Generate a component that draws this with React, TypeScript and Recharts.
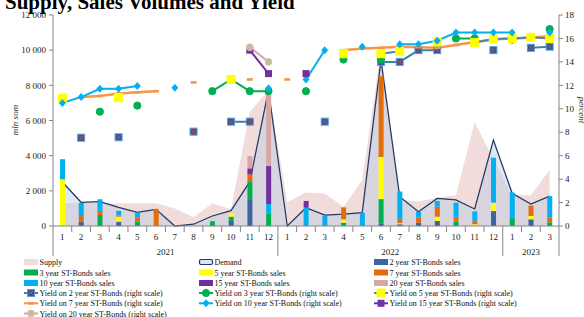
import React from 'react';
import { ComposedChart, Area, Bar, Line, XAxis, YAxis } from 'recharts';

const MONTHS = ['1','2','3','4','5','6','7','8','9','10','11','12','1','2','3','4','5','6','7','8','9','10','11','12','1','2','3'];
const YEARS = [
  { label: '2021', start: 0, count: 12 },
  { label: '2022', start: 12, count: 12 },
  { label: '2023', start: 24, count: 3 },
];

const SUPPLY = [1300,1300,1300,1300,1300,1300,1000,500,1300,950,6500,7700,1350,1900,1850,1100,2600,10000,1500,1400,1600,1750,5900,3800,1750,1750,3200];
const DEMAND = [2500,1350,1380,1060,780,950,0,100,570,870,2520,7730,0,1040,625,680,760,9440,1670,815,1570,1480,970,4890,1860,1250,1700];

const SALES_2Y = [0,245,0,245,0,0,0,0,0,285,1480,0,0,0,0,0,0,150,100,190,285,0,0,850,0,380,0];
const SALES_3Y = [0,0,625,0,245,0,0,0,270,245,1040,720,0,50,0,190,0,1380,0,0,0,245,0,0,440,0,210];
const SALES_5Y = [2650,0,0,285,0,0,0,0,0,190,0,0,0,0,0,190,0,2400,60,0,245,0,100,475,0,190,0];
const SALES_7Y = [0,320,230,60,230,970,0,0,0,0,420,0,0,0,0,680,0,4590,230,300,570,250,200,0,0,590,260];
const SALES_10Y = [1150,750,665,270,300,0,0,0,0,0,0,530,0,1000,585,0,760,0,1570,320,320,830,530,2560,1460,0,1230];
const SALES_15Y = [0,0,0,0,0,0,0,0,0,0,340,2160,0,375,0,0,0,0,0,0,0,0,0,0,0,0,0];
const SALES_20Y = [0,0,0,0,0,0,0,0,0,0,700,4040,0,0,0,0,0,0,0,0,0,0,0,0,0,0,0];

const n = null;
const YIELD_2Y = [n,7.53,n,7.57,n,n,n,8.05,n,8.9,8.9,n,n,n,8.9,n,n,14.0,14.0,15.0,15.0,n,n,15.0,n,15.2,15.3];
const YIELD_3Y = [n,n,9.75,n,10.27,n,n,n,11.5,12.5,11.5,11.5,n,11.5,n,14.2,n,14.2,n,n,n,16.0,16.0,n,15.9,n,16.8];
const YIELD_5Y = [10.9,n,n,10.95,n,n,n,n,n,12.5,n,n,n,n,n,14.7,n,14.7,14.9,n,15.7,n,15.65,15.95,16.0,16.1,16.0];
const YIELD_7Y = [n,11.0,11.1,11.3,11.4,11.5,n,12.25,n,n,12.5,n,12.5,n,n,15.0,15.15,15.2,15.3,15.25,15.2,15.45,15.7,15.9,16.0,16.05,16.2];
const YIELD_10Y = [10.5,11.0,11.7,11.7,11.95,n,11.8,n,n,n,n,11.75,n,12.5,15.0,n,15.3,n,15.5,15.5,15.8,16.5,16.5,16.5,16.5,n,16.5];
const YIELD_15Y = [n,n,n,n,n,n,n,n,n,n,15.0,13.0,n,13.0,n,n,n,n,n,n,n,n,n,n,n,n,n];
const YIELD_20Y = [n,n,n,n,n,n,n,n,n,n,15.25,14.0,n,n,n,n,n,n,n,n,n,n,n,n,n,n,n];

const LEFT_TICKS = [0,2000,4000,6000,8000,10000,12000];
const RIGHT_TICKS = [0,2,4,6,8,10,12,14,16,18];

const data = MONTHS.map((m, i) => ({
  key: String(i), month: m,
  supply: SUPPLY[i], demand: DEMAND[i],
  s2: SALES_2Y[i], s3: SALES_3Y[i], s5: SALES_5Y[i], s7: SALES_7Y[i], s10: SALES_10Y[i], s15: SALES_15Y[i], s20: SALES_20Y[i],
  y2: YIELD_2Y[i], y3: YIELD_3Y[i], y5: YIELD_5Y[i], y7: YIELD_7Y[i], y10: YIELD_10Y[i], y15: YIELD_15Y[i], y20: YIELD_20Y[i],
}));

const FONT = "'Liberation Serif', 'Times New Roman', serif";
const AXIS = '#868686';
const W = 584, H = 317;
const M = { top: 15, right: 0, bottom: 61, left: 8 };
const LEFT_W = 45, RIGHT_W = 25;
const PLOT_W = W - M.left - M.right - LEFT_W - RIGHT_W;
const HALF = PLOT_W / MONTHS.length / 2;

const C = {
  supply: '#F2DCDB', demandFill: '#B9CDE5', demandLine: '#1F3864',
  b2: '#3B64A0', b3: '#00B050', b5: '#FFFF00', b7: '#E46C0A', b10: '#00B0F0', b15: '#7030A0', b20: '#D9A6A6',
  l2: '#31859C', l3: '#00B050', l5: '#4F81BD', l7: '#F79646', l10: '#00B0F0', l15: '#7030A0', l20: '#D9A6A6',
};

const XTick = (props: any) => {
  const { x, y, payload } = props;
  const i = payload.index;
  const half = payload.offset || HALF;
  const yr = YEARS.find((e) => e.start === i);
  const left = x - half;
  return (
    <g>
      <text x={x} y={y + 14} textAnchor="middle" fontSize={9} fontFamily={FONT} fill="#222">{MONTHS[i]}</text>
      <line x1={left} x2={left} y1={y} y2={yr ? y + 30 : y + 6} stroke={AXIS} strokeWidth={1} />
      {i === MONTHS.length - 1 && <line x1={x + half} x2={x + half} y1={y} y2={y + 30} stroke={AXIS} strokeWidth={1} />}
      {yr && (
        <text x={left + yr.count * half} y={y + 29} textAnchor="middle" fontSize={9} fontFamily={FONT} fill="#222">{yr.label}</text>
      )}
    </g>
  );
};

const fmtThousands = (v: number) => String(v).replace(/\B(?=(\d{3})+(?!\d))/g, ' ');

type Kind = 'sq2' | 'circ3' | 'sq5' | 'dash7' | 'dia10' | 'sq15' | 'circ20';

const drawMarker = (kind: Kind, cx: number, cy: number, key?: any) => {
  switch (kind) {
    case 'sq2':
      return (
        <g key={key}>
          <rect x={cx - 3.5} y={cy - 3.5} width={7} height={7} fill="#2F5597" stroke="#5B9BD5" strokeWidth={1} />
          <path d={`M${cx - 2.2},${cy - 2.2}L${cx + 2.2},${cy + 2.2}M${cx - 2.2},${cy + 2.2}L${cx + 2.2},${cy - 2.2}`} stroke="#C0504D" strokeWidth={1} />
        </g>
      );
    case 'circ3':
      return <circle key={key} cx={cx} cy={cy} r={3.6} fill={C.b3} stroke={C.b3} />;
    case 'sq5':
      return <rect key={key} x={cx - 4} y={cy - 4} width={8} height={8} fill="#FFFF00" stroke="#FFFF00" />;
    case 'dash7':
      return <rect key={key} x={cx - 3} y={cy - 1.3} width={6} height={2.6} fill={C.l7} />;
    case 'dia10':
      return <path key={key} d={`M${cx},${cy - 4}L${cx + 3.5},${cy}L${cx},${cy + 4}L${cx - 3.5},${cy}Z`} fill={C.b10} />;
    case 'sq15':
      return <rect key={key} x={cx - 3.5} y={cy - 3.5} width={7} height={7} fill={C.b15} />;
    case 'circ20':
      return <circle key={key} cx={cx} cy={cy} r={3.4} fill="#C4BD97" stroke="#E6B9B8" strokeWidth={1} />;
  }
  return null;
};

const dotFn = (kind: Kind) => (props: any) => {
  const { cx, cy, index, value } = props;
  const k = `${kind}-${index}`;
  if (cx == null || cy == null || value == null || Number.isNaN(cy)) return <g key={k} />;
  return drawMarker(kind, cx, cy, k);
};

const LEGEND: { label: string; type: string; color?: string; marker?: Kind; col: number; row: number }[] = [
  { label: 'Supply', type: 'supply', col: 0, row: 0 },
  { label: 'Demand', type: 'demand', col: 1, row: 0 },
  { label: '2 year ST-Bonds sales', type: 'bar', color: C.b2, col: 2, row: 0 },
  { label: '3 year ST-Bonds sales', type: 'bar', color: C.b3, col: 0, row: 1 },
  { label: '5 year ST-Bonds sales', type: 'bar', color: C.b5, col: 1, row: 1 },
  { label: '7 year ST-Bonds sales', type: 'bar', color: C.b7, col: 2, row: 1 },
  { label: '10 year ST-Bonds sales', type: 'bar', color: C.b10, col: 0, row: 2 },
  { label: '15 year ST-Bonds sales', type: 'bar', color: C.b15, col: 1, row: 2 },
  { label: '20 year ST-Bonds sales', type: 'bar', color: C.b20, col: 2, row: 2 },
  { label: 'Yield on 2 year ST-Bonds (right scale)', type: 'line', color: C.l2, marker: 'sq2', col: 0, row: 3 },
  { label: 'Yield on 3 year ST-Bonds (right scale)', type: 'line', color: C.l3, marker: 'circ3', col: 1, row: 3 },
  { label: 'Yield on 5 year ST-Bonds (right scale)', type: 'line', color: C.l5, marker: 'sq5', col: 2, row: 3 },
  { label: 'Yield on 7 year ST-Bonds (right scale)', type: 'line', color: C.l7, marker: 'dash7', col: 0, row: 4 },
  { label: 'Yield on 10 year ST-Bonds (right scale)', type: 'line', color: C.l10, marker: 'dia10', col: 1, row: 4 },
  { label: 'Yield on 15 year ST-Bonds (right scale)', type: 'line', color: C.l15, marker: 'sq15', col: 2, row: 4 },
  { label: 'Yield on 20 year ST-Bonds (right scale)', type: 'line', color: C.l20, marker: 'circ20', col: 0, row: 5 },
];
const COL_X = [24, 199, 374];
const ROW_Y = [262, 272.5, 283, 293, 303.3, 313.5];

const Overlay = () => (
  <svg width={W} height={H} style={{ position: 'absolute', left: 0, top: 0, pointerEvents: 'none' }}>
    <text x={5} y={8.5} fontSize={21} fontWeight="bold" fontFamily={FONT} fill="#000">Supply, Sales Volumes and Yield</text>
    <text transform="translate(18,120) rotate(-90)" textAnchor="middle" fontSize={9} fontStyle="italic" fontFamily={FONT} fill="#222">mln som</text>
    <text transform="translate(579,110) rotate(90)" textAnchor="middle" fontSize={9} fontStyle="italic" fontFamily={FONT} fill="#222">percent</text>
    {LEGEND.map((it, k) => {
      const x = COL_X[it.col];
      const y = ROW_Y[it.row];
      let icon: React.ReactNode = null;
      if (it.type === 'supply') icon = <rect x={x} y={y - 3} width={14} height={6} fill={C.supply} />;
      else if (it.type === 'demand') icon = <rect x={x + 0.5} y={y - 2.5} width={13} height={5} rx={1.5} fill="#DCE6F2" stroke={C.demandLine} strokeWidth={1.2} />;
      else if (it.type === 'bar') icon = <rect x={x} y={y - 3} width={14} height={6} fill={it.color} />;
      else icon = (
        <g>
          <line x1={x} x2={x + 14} y1={y} y2={y} stroke={it.color} strokeWidth={2} />
          {drawMarker(it.marker as Kind, x + 7, y)}
        </g>
      );
      return (
        <g key={k}>
          {icon}
          <text x={x + 15.5} y={y + 3} fontSize={8} fontFamily={FONT} fill="#111">{it.label}</text>
        </g>
      );
    })}
  </svg>
);

export default function App() {
  return (
    <div style={{ position: 'absolute', left: 0, top: 0, width: W, height: H, background: '#fff', overflow: 'hidden' }}>
      <ComposedChart width={W} height={H} data={data} margin={M} barSize={5}>
        <XAxis dataKey="key" xAxisId="x" height={30} tick={<XTick />} tickLine={false} tickSize={0} tickMargin={0} axisLine={{ stroke: AXIS }} interval={0} />
        <YAxis yAxisId="left" orientation="left" width={LEFT_W} domain={[0, 12000]} ticks={LEFT_TICKS} tickFormatter={fmtThousands}
          tick={{ fontSize: 9, fontFamily: FONT, fill: '#222' }} tickLine={{ stroke: AXIS }} tickSize={4} tickMargin={3} axisLine={{ stroke: AXIS }} interval={0} />
        <YAxis yAxisId="right" orientation="right" width={RIGHT_W} domain={[0, 18]} ticks={RIGHT_TICKS}
          tick={{ fontSize: 9, fontFamily: FONT, fill: '#222' }} tickLine={{ stroke: AXIS }} tickSize={4} tickMargin={2} axisLine={{ stroke: AXIS }} interval={0} />
        <Area xAxisId="x" yAxisId="left" type="linear" dataKey="supply" fill={C.supply} fillOpacity={1} stroke="none" isAnimationActive={false} />
        <Area xAxisId="x" yAxisId="left" type="linear" dataKey="demand" fill={C.demandFill} fillOpacity={0.45} stroke={C.demandLine} strokeWidth={1.25} isAnimationActive={false} />
        <Bar xAxisId="x" yAxisId="left" dataKey="s2" stackId="s" fill={C.b2} isAnimationActive={false} />
        <Bar xAxisId="x" yAxisId="left" dataKey="s3" stackId="s" fill={C.b3} isAnimationActive={false} />
        <Bar xAxisId="x" yAxisId="left" dataKey="s5" stackId="s" fill={C.b5} isAnimationActive={false} />
        <Bar xAxisId="x" yAxisId="left" dataKey="s7" stackId="s" fill={C.b7} isAnimationActive={false} />
        <Bar xAxisId="x" yAxisId="left" dataKey="s10" stackId="s" fill={C.b10} isAnimationActive={false} />
        <Bar xAxisId="x" yAxisId="left" dataKey="s15" stackId="s" fill={C.b15} isAnimationActive={false} />
        <Bar xAxisId="x" yAxisId="left" dataKey="s20" stackId="s" fill={C.b20} isAnimationActive={false} />
        <Line xAxisId="x" yAxisId="right" type="linear" dataKey="y2" stroke={C.l2} strokeWidth={2} dot={dotFn('sq2')} activeDot={false} isAnimationActive={false} />
        <Line xAxisId="x" yAxisId="right" type="linear" dataKey="y3" stroke={C.l3} strokeWidth={2} dot={dotFn('circ3')} activeDot={false} isAnimationActive={false} />
        <Line xAxisId="x" yAxisId="right" type="linear" dataKey="y7" stroke={C.l7} strokeWidth={2.5} dot={dotFn('dash7')} activeDot={false} isAnimationActive={false} />
        <Line xAxisId="x" yAxisId="right" type="linear" dataKey="y5" stroke={C.l5} strokeWidth={2} dot={dotFn('sq5')} activeDot={false} isAnimationActive={false} />
        <Line xAxisId="x" yAxisId="right" type="linear" dataKey="y10" stroke={C.l10} strokeWidth={2} dot={dotFn('dia10')} activeDot={false} isAnimationActive={false} />
        <Line xAxisId="x" yAxisId="right" type="linear" dataKey="y15" stroke={C.l15} strokeWidth={2} dot={dotFn('sq15')} activeDot={false} isAnimationActive={false} />
        <Line xAxisId="x" yAxisId="right" type="linear" dataKey="y20" stroke={C.l20} strokeWidth={2} dot={dotFn('circ20')} activeDot={false} isAnimationActive={false} />
      </ComposedChart>
      <Overlay />
    </div>
  );
}
